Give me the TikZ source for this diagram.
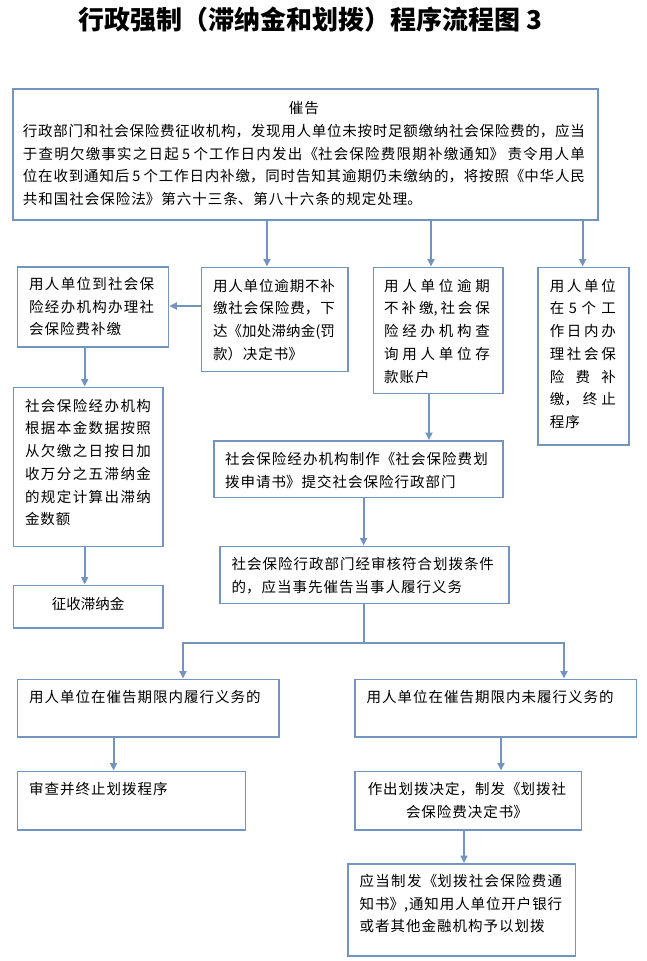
\documentclass[tikz,border=0pt]{standalone}
\usepackage{fontspec}
\setmainfont{Noto Sans CJK SC}
\newfontfamily\cjk{Noto Sans CJK SC}
\usetikzlibrary{arrows.meta}
\XeTeXlinebreaklocale "zh"
\XeTeXlinebreakskip=1pt plus 5pt minus 1pt
\XeTeXlinebreakpenalty=10000
\definecolor{lc}{RGB}{116,148,192}
\newcommand\body{\cjk\fontsize{14.5}{22.7}\selectfont}
\begin{document}
\begin{tikzpicture}[x=1pt,y=-1pt,
  box/.style={draw=lc,line width=1.8pt,inner sep=0pt,anchor=north west},
  txt/.style={inner sep=0pt,anchor=north west,align=justify,font=\body},
  arr/.style={draw=lc,line width=1.8pt,-{Triangle[length=7.5pt,width=7pt]}},
  ln/.style={draw=lc,line width=1.8pt}]
\fill[white] (0,0) rectangle (647,961);
\useasboundingbox (0,0) rectangle (647,961);

% title
\node[inner sep=0pt,font=\cjk\fontsize{26}{30}\selectfont\bfseries] (title) at (310,20) {行政强制（滞纳金和划拨）程序流程图 3};

% boxes
\node[box,minimum width=585pt,minimum height=131pt] (top) at (12,88) {};
\node[box,minimum width=151pt,minimum height=80pt] (A) at (16.5,266) {};
\node[box,minimum width=146.5pt,minimum height=104pt] (B) at (200.5,266.5) {};
\node[box,minimum width=129.5pt,minimum height=126pt] (C) at (372.5,266.5) {};
\node[box,minimum width=91pt,minimum height=177.5pt] (D) at (537,266.5) {};
\node[box,minimum width=149.5pt,minimum height=159pt] (E) at (12.5,386.5) {};
\node[box,minimum width=149.5pt,minimum height=42.5pt] (F) at (12.5,584.5) {};
\node[box,minimum width=289pt,minimum height=56.5pt] (G) at (213,440) {};
\node[box,minimum width=289pt,minimum height=57pt] (H) at (219,545.5) {};
\node[box,minimum width=261.5pt,minimum height=57.5pt] (I) at (16.5,678.5) {};
\node[box,minimum width=281.5pt,minimum height=57.5pt] (J) at (354,678.5) {};
\node[box,minimum width=228pt,minimum height=58.5pt] (K) at (16.5,770.5) {};
\node[box,minimum width=226.5pt,minimum height=58.5pt] (L) at (354,770.5) {};
\node[box,minimum width=227.5pt,minimum height=92pt] (M) at (347,863) {};

% texts
\node[txt,text width=562pt] (topt) at (22.7,97.8) {\strut\hfill 催告\hfill\null\par
\strut 行政部门和社会保险费征收机构，发现用人单位未按时足额缴纳社会保险费的，应当\linebreak
于查明欠缴事实之日起 5 个工作日内发出《社会保险费限期补缴通知》 责令用人单\linebreak
位在收到通知后 5 个工作日内补缴，同时告知其逾期仍未缴纳的，将按照《中华人民\linebreak
共和国社会保险法》第六十三条、第八十六条的规定处理。};
\node[txt,text width=125pt] (At) at (29,273.5) {\strut 用人单位到社会保\linebreak 险经办机构办理社\linebreak 会保险费补缴};
\node[txt,text width=122pt] (Bt) at (212.8,275.2) {\strut 用人单位逾期不补\linebreak 缴社会保险费，下\linebreak 达《加处滞纳金(罚\linebreak 款）决定书》};
\node[txt,text width=105.7pt] (Ct) at (384,275.2) {\strut 用人单位逾期\linebreak 不补缴,社会保\linebreak 险经办机构查\linebreak 询用人单位存\linebreak 款账户};
\node[txt,text width=66pt] (Dt) at (549.6,275.2) {\strut 用人单位\linebreak 在 5 个工\linebreak 作日内办\linebreak 理社会保\linebreak 险 费 补\linebreak 缴，终止\linebreak 程序};
\node[txt,text width=126pt] (Et) at (24.8,395.2) {\strut 社会保险经办机构\linebreak 根据本金数据按照\linebreak 从欠缴之日按日加\linebreak 收万分之五滞纳金\linebreak 的规定计算出滞纳\linebreak 金数额};
\node[inner sep=0pt,font=\body] (Ft) at (88,604) {征收滞纳金};
\node[txt,text width=262.6pt] (Gt) at (225,448.5) {\strut 社会保险经办机构制作《社会保险费划\linebreak 拨申请书》提交社会保险行政部门};
\node[txt,text width=262.4pt] (Ht) at (231.4,553.5) {\strut 社会保险行政部门经审核符合划拨条件\linebreak 的，应当事先催告当事人履行义务};
\node[txt,text width=250pt] (It) at (29,686.9) {\strut 用人单位在催告期限内履行义务的};
\node[txt,text width=260pt] (Jt) at (366.5,686.9) {\strut 用人单位在催告期限内未履行义务的};
\node[txt,text width=200pt] (Kt) at (29,778.3) {\strut 审查并终止划拨程序};
\node[txt,text width=220pt,align=center,anchor=north] (Lt) at (467,778.3) {\XeTeXlinebreakskip=1pt\relax\strut 作出划拨决定，制发《划拨社\\会保险费决定书》};
\node[txt,text width=202.5pt] (Mt) at (359.5,870.2) {\strut 应当制发《划拨社会保险费通\linebreak 知书》,通知用人单位开户银行\linebreak 或者其他金融机构予以划拨};

% connector x positions
\coordinate (xB) at (267,0);
\coordinate (xC) at (431,0);
\coordinate (xD) at (582.6,0);
\coordinate (yBA) at (0,306);
\coordinate (xAE) at (84.7,0);
\coordinate (xCG) at (429,0);
\coordinate (xGH) at (363.6,0);
\coordinate (sp) at (363.6,642.7);
\coordinate (xI) at (183,0);
\coordinate (xJ) at (564,0);
\coordinate (xIK) at (113.6,0);
\coordinate (xJL) at (501,0);
\coordinate (xLM) at (464,0);

\draw[arr] (top.south -| xB) -- (B.north -| xB);
\draw[arr] (top.south -| xC) -- (C.north -| xC);
\draw[arr] (top.south -| xD) -- (D.north -| xD);
\draw[arr] (B.west |- yBA) -- (A.east |- yBA);
\draw[arr] (A.south -| xAE) -- (E.north -| xAE);
\draw[arr] (E.south -| xAE) -- (F.north -| xAE);
\draw[arr] (C.south -| xCG) -- (G.north -| xCG);
\draw[arr] (G.south -| xGH) -- (H.north -| xGH);
\draw[ln] (H.south -| sp) -- (sp);
\draw[arr] (sp) -| (I.north -| xI);
\draw[arr] (sp) -| (J.north -| xJ);
\draw[arr] (I.south -| xIK) -- (K.north -| xIK);
\draw[arr] (J.south -| xJL) -- (L.north -| xJL);
\draw[arr] (L.south -| xLM) -- (M.north -| xLM);
\end{tikzpicture}
\end{document}
